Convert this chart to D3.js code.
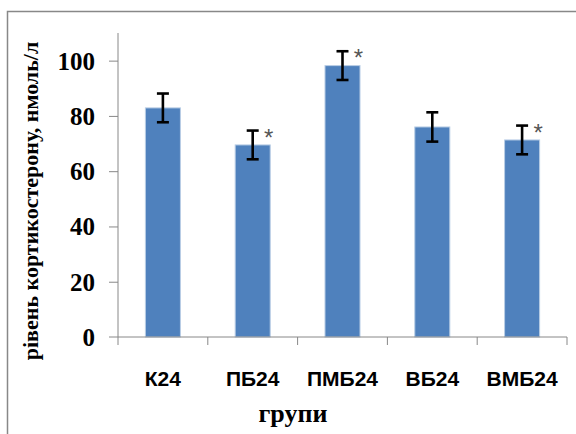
<!DOCTYPE html>
<html><head><meta charset="utf-8">
<script src="https://cdn.jsdelivr.net/npm/d3@7"></script>
<style>body{margin:0;background:#fff}svg{display:block}</style>
</head><body>
<script>
const categories = ["К24", "ПБ24", "ПМБ24", "ВБ24", "ВМБ24"];
const values = [82.9, 69.5, 98.2, 76.0, 71.3];
const errors = [5.2, 5.2, 5.2, 5.3, 5.2];
const significant = [false, true, true, false, true];
const yTicks = [0, 20, 40, 60, 80, 100];

const W = 576, H = 434;
const SERIF = "Liberation Serif";
const SANS = "Liberation Sans";
const svg = d3.select("body").append("svg").attr("width", W).attr("height", H);

// outer frame
svg.append("path").attr("d", `M7.5,${H} V11.5 H${W}`).attr("fill", "none").attr("stroke", "#888").attr("stroke-width", 1.5);

const x0 = 118, x1 = 567, yTop = 33, yZero = 337;
const x = d3.scaleBand().domain(categories).range([x0, x1]).paddingInner(0.61).paddingOuter(0.305);
const y = d3.scaleLinear().domain([0, 110]).range([yZero, yTop]);

// bars
svg.selectAll("rect.bar").data(categories).join("rect")
  .attr("x", d => x(d)).attr("width", x.bandwidth())
  .attr("y", (d, i) => y(values[i])).attr("height", (d, i) => yZero - y(values[i]))
  .attr("fill", "#4F81BD").attr("stroke", "#B9CDE5").attr("stroke-width", 1);

// y axis
const yAxis = svg.append("g").attr("transform", `translate(${x0},0)`)
  .call(d3.axisLeft(y).tickValues(yTicks).tickSize(9).tickPadding(14).tickFormat(d3.format("d")));
yAxis.attr("font-family", null);
yAxis.select(".domain").attr("d", `M-9,${y(0)}H0V${yTop}`).attr("stroke", "#888");
yAxis.selectAll(".tick line").attr("stroke", "#888");
yAxis.selectAll(".tick text").style("font-family", SERIF).style("font-weight", "bold")
  .style("font-size", "25px").attr("fill", "#000").attr("dy", "0.34em");
yAxis.select(".tick:first-of-type line").remove();

// x axis
const xAxis = svg.append("g").attr("transform", `translate(0,${yZero})`);
xAxis.append("line").attr("x1", x0).attr("x2", x1).attr("stroke", "#888");
const boundaries = d3.range(categories.length + 1).map(i => x0 + i * (x1 - x0) / categories.length);
xAxis.selectAll("line.tk").data(boundaries).join("line")
  .attr("x1", d => d).attr("x2", d => d).attr("y1", 0).attr("y2", 8).attr("stroke", "#888");
xAxis.selectAll("text").data(categories).join("text")
  .attr("x", d => x(d) + x.bandwidth() / 2).attr("y", 49)
  .attr("text-anchor", "middle")
  .style("font-family", SANS).style("font-weight", "bold")
  .style("font-size", "21px").attr("fill", "#000").text(d => d);

// error bars
const eb = svg.append("g").attr("stroke", "#000").attr("stroke-width", 2.6);
categories.forEach((c, i) => {
  const cx = x(c) + x.bandwidth() / 2;
  const t = y(values[i] + errors[i]), b = y(values[i] - errors[i]);
  eb.append("line").attr("x1", cx).attr("x2", cx).attr("y1", t).attr("y2", b);
  eb.append("line").attr("x1", cx - 6).attr("x2", cx + 6).attr("y1", t).attr("y2", t);
  eb.append("line").attr("x1", cx - 6).attr("x2", cx + 6).attr("y1", b).attr("y2", b);
  if (significant[i]) {
    svg.append("text").attr("x", cx + 16).attr("y", t + 15).attr("text-anchor", "middle")
      .style("font-family", SANS).style("font-size", "24px").attr("fill", "#555").text("*");
  }
});

// axis titles
svg.append("text").attr("transform", `translate(38,201) rotate(-90)`)
  .attr("text-anchor", "middle").style("font-family", SERIF).style("font-weight", "bold")
  .style("font-size", "22px").attr("fill", "#000").text("рівень кортикостерону, нмоль/л");
svg.append("text").attr("x", 293).attr("y", 422).attr("text-anchor", "middle")
  .style("font-family", SERIF).style("font-weight", "bold")
  .style("font-size", "26px").attr("fill", "#000").text("групи");
</script>
</body></html>
